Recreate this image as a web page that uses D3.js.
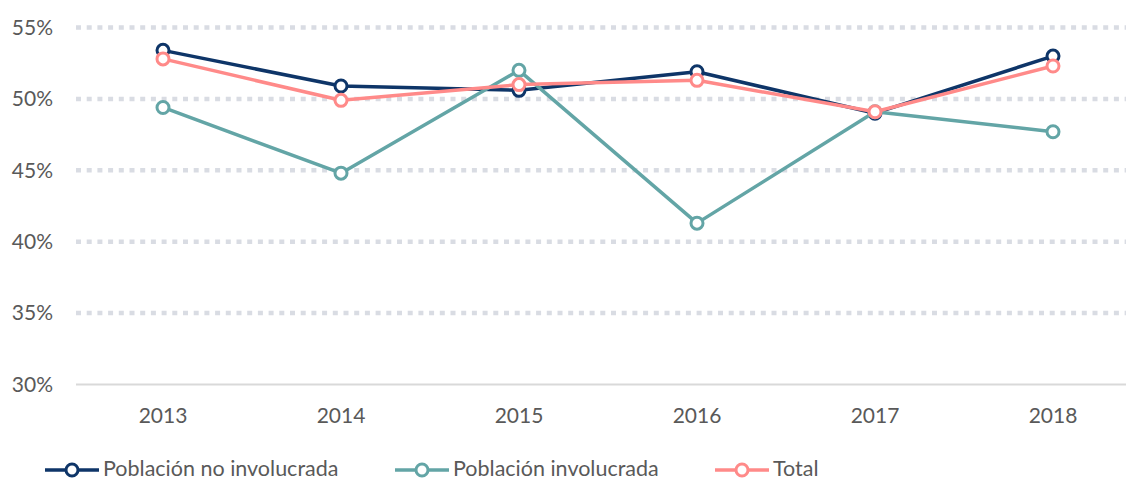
<!DOCTYPE html>
<html>
<style>
    body { margin: 0; background: #fff; }
    svg text {
        font-family: Lato, "Open Sans", sans-serif;
        fill: #595959;
    }
</style>
<body>
<svg id="viz" width="1126" height="482"></svg>
<script src="https://cdnjs.cloudflare.com/ajax/libs/d3/7.8.5/d3.min.js"></script>
<script>
    var years = ['2013', '2014', '2015', '2016', '2017', '2018'];
    var noInvolucrada = [53.4, 50.9, 50.6, 51.9, 49.0, 53.0];
    var involucrada = [49.4, 44.8, 52.0, 41.3, 49.1, 47.7];
    var total = [52.8, 49.9, 51.0, 51.3, 49.1, 52.3];
    var yTicks = [30, 35, 40, 45, 50, 55];

    var series = [
        { name: 'Población no involucrada', values: noInvolucrada, color: '#0e3568' },
        { name: 'Población involucrada', values: involucrada, color: '#63a5a6' },
        { name: 'Total', values: total, color: '#ff8a89' }
    ];

    var svg = d3.select('#viz');

    var x = d3.scalePoint()
        .domain(years)
        .range([163, 1053]);

    var y = d3.scaleLinear()
        .domain([30, 55])
        .range([384.5, 27.5]);

    // gridlines
    svg.append('g')
        .selectAll('line')
        .data(yTicks.filter(function(d) { return d > 30; }))
        .join('line')
        .attr('x1', 76)
        .attr('x2', 1126)
        .attr('y1', function(d) { return y(d); })
        .attr('y2', function(d) { return y(d); })
        .attr('stroke', '#d9dce3')
        .attr('stroke-width', 4.5)
        .attr('stroke-dasharray', '5 5.7');

    // baseline
    svg.append('line')
        .attr('x1', 76)
        .attr('x2', 1126)
        .attr('y1', y(30))
        .attr('y2', y(30))
        .attr('stroke', '#d9d9d9')
        .attr('stroke-width', 2);

    // y labels
    svg.append('g')
        .selectAll('text')
        .data(yTicks)
        .join('text')
        .attr('x', 53)
        .attr('y', function(d) { return y(d); })
        .attr('dy', '0.35em')
        .attr('text-anchor', 'end')
        .style('font-size', '21px')
        .text(function(d) { return d + '%'; });

    // x labels
    svg.append('g')
        .selectAll('text')
        .data(years)
        .join('text')
        .attr('x', function(d) { return x(d); })
        .attr('y', 423)
        .attr('text-anchor', 'middle')
        .style('font-size', '21px')
        .text(function(d) { return d; });

    var line = d3.line()
        .x(function(d, i) { return x(years[i]); })
        .y(function(d) { return y(d); });

    series.forEach(function(s) {
        var g = svg.append('g');
        g.append('path')
            .datum(s.values)
            .attr('d', line)
            .attr('fill', 'none')
            .attr('stroke', s.color)
            .attr('stroke-width', 3.5)
            .attr('stroke-linejoin', 'round');
        g.selectAll('circle')
            .data(s.values)
            .join('circle')
            .attr('cx', function(d, i) { return x(years[i]); })
            .attr('cy', function(d) { return y(d); })
            .attr('r', 6)
            .attr('fill', '#fff')
            .attr('stroke', s.color)
            .attr('stroke-width', 3);
    });

    // legend
    var legendX = [45, 395, 715];
    var legend = svg.append('g')
        .selectAll('g')
        .data(series)
        .join('g')
        .attr('transform', function(d, i) { return 'translate(' + legendX[i] + ',470)'; });

    legend.append('line')
        .attr('x1', 0)
        .attr('x2', 54)
        .attr('stroke', function(d) { return d.color; })
        .attr('stroke-width', 3.5);
    legend.append('circle')
        .attr('cx', 27)
        .attr('r', 6)
        .attr('fill', '#fff')
        .attr('stroke', function(d) { return d.color; })
        .attr('stroke-width', 3);
    legend.append('text')
        .attr('x', 58)
        .attr('y', 6)
        .style('font-size', '21.5px')
        .text(function(d) { return d.name; });
</script>
</body>
</html>
